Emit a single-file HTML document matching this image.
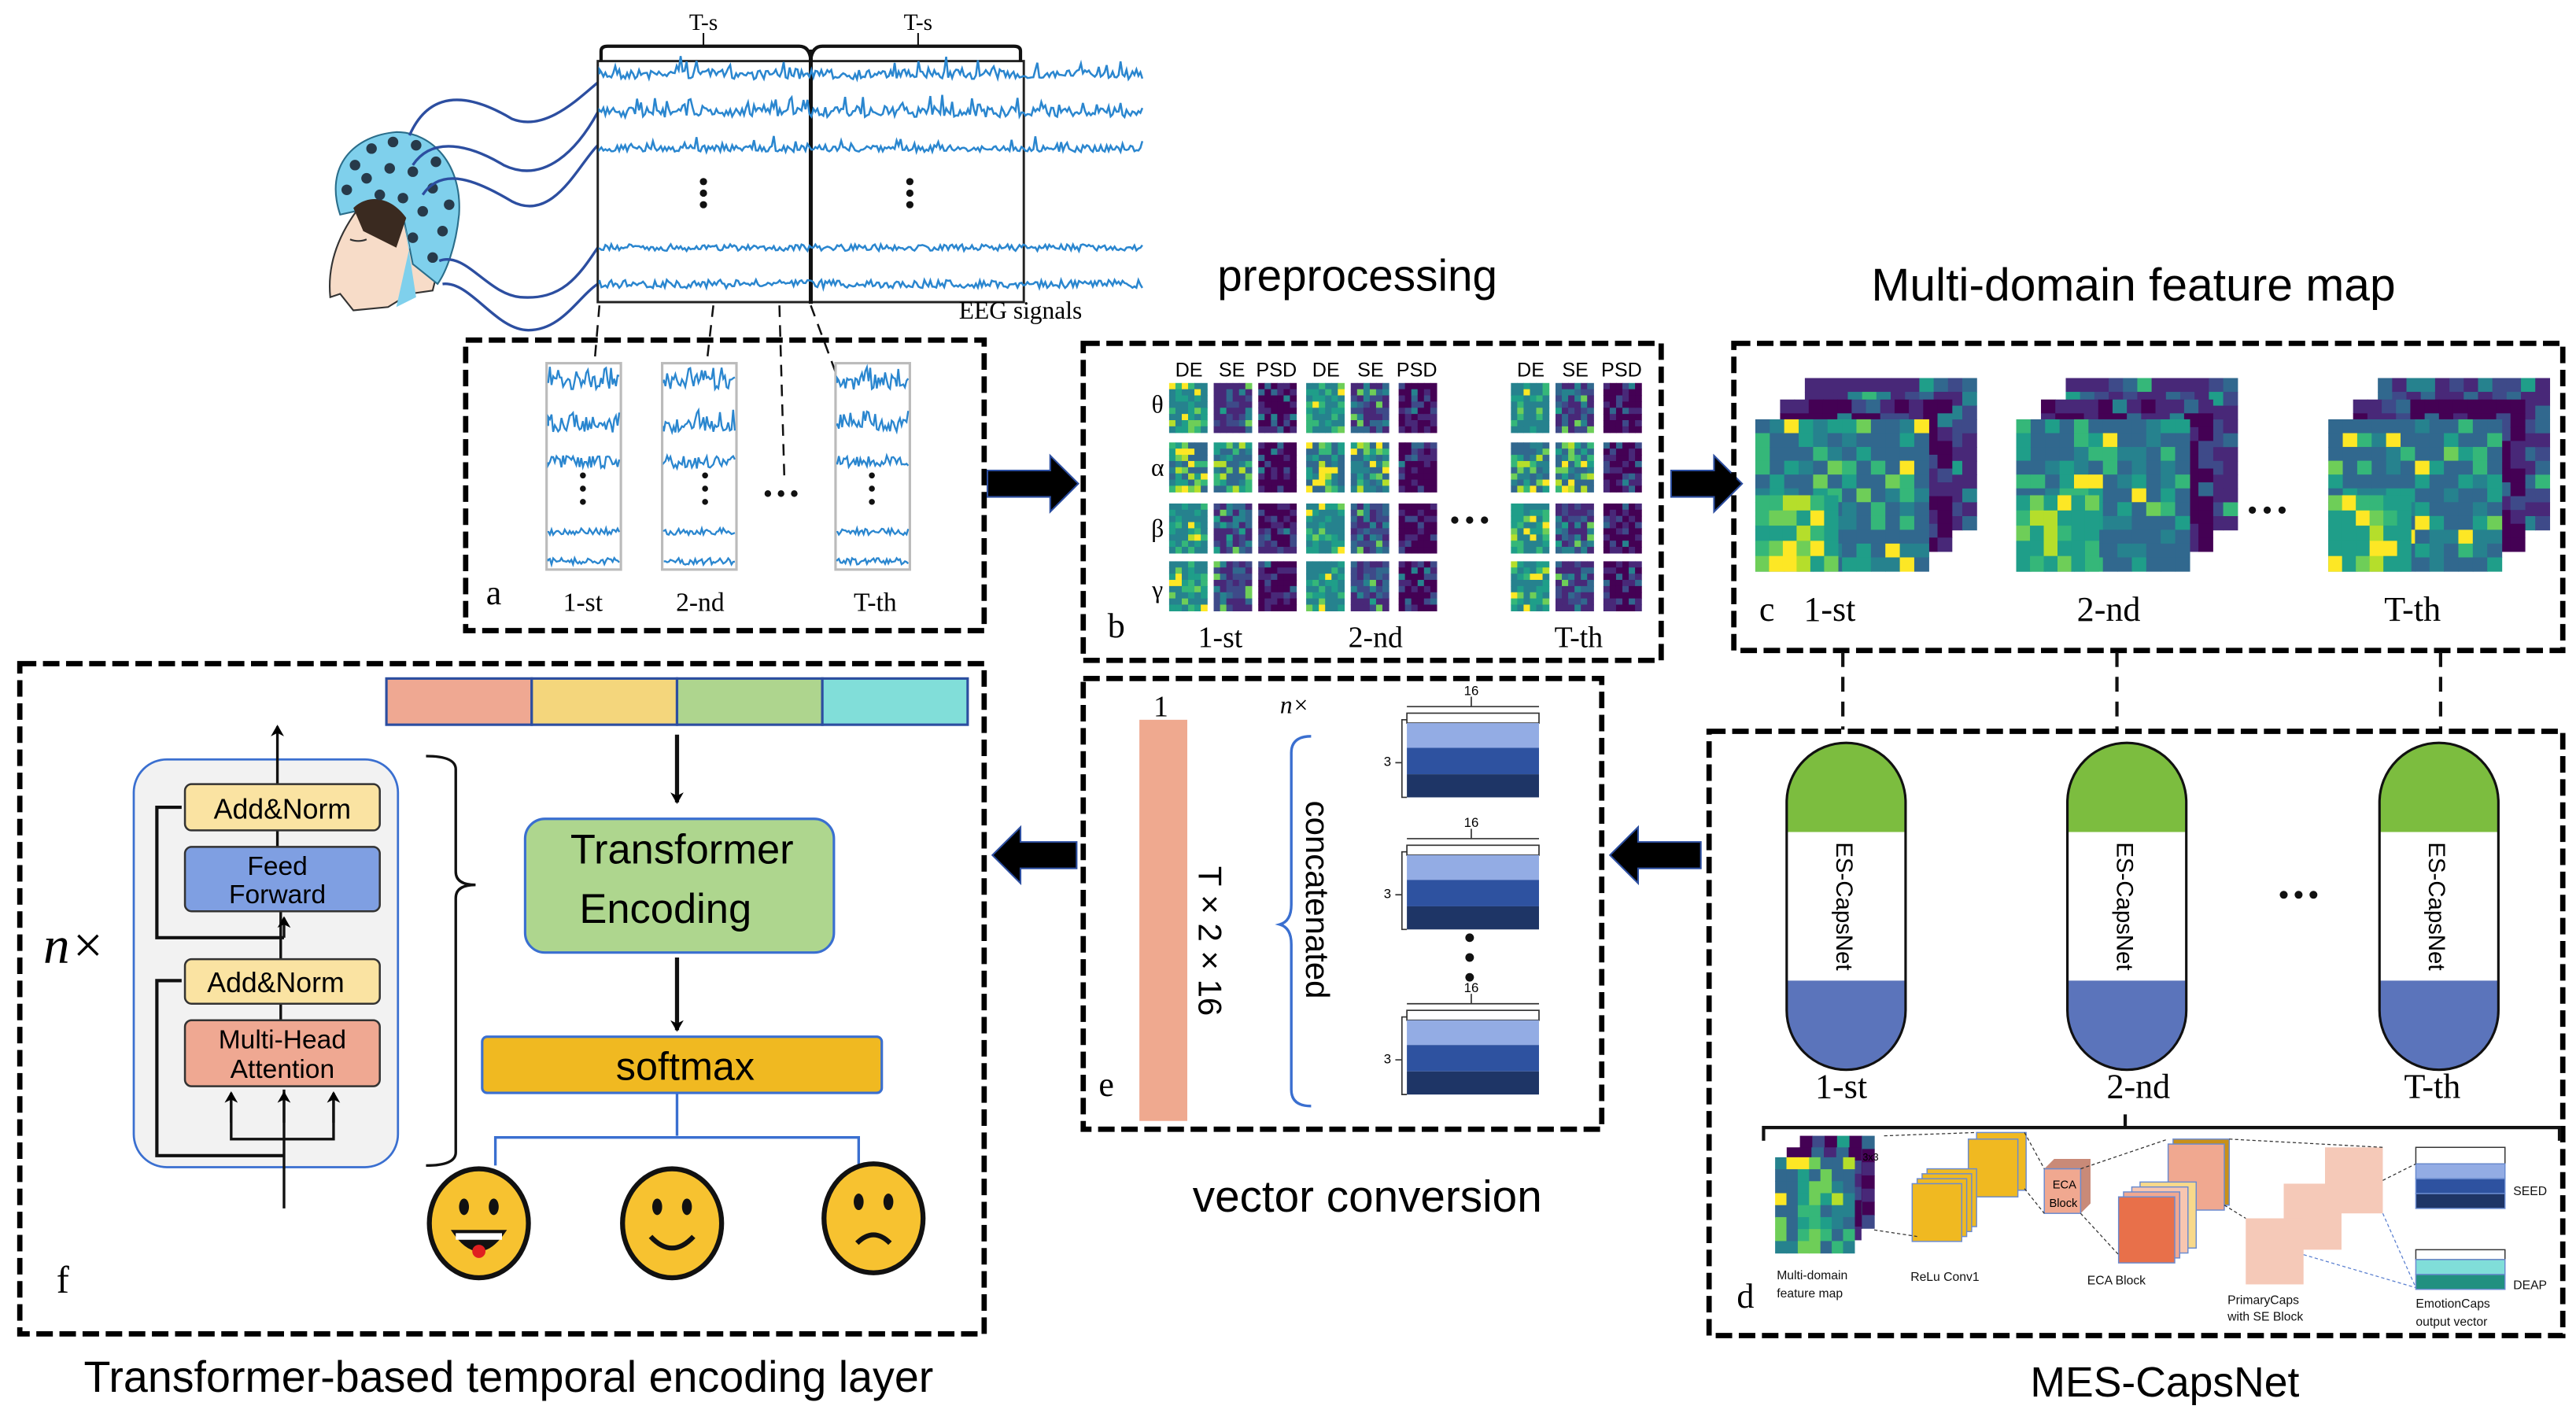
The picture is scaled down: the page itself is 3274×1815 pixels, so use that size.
<!DOCTYPE html>
<html><head><meta charset="utf-8">
<style>
html,body{margin:0;padding:0;background:#fff;}
body{width:3274px;height:1815px;overflow:hidden;}
svg{display:block;}
text{font-family:"Liberation Sans",sans-serif;}
.serif,.serif text{font-family:"Liberation Serif",serif;}
.db{fill:none;stroke:#000;stroke-width:3.2;stroke-dasharray:10 4;}
</style></head><body>
<svg id="s" width="3274" height="1815" viewBox="0 0 1560 865" preserveAspectRatio="none" xmlns="http://www.w3.org/2000/svg">
<defs>
<marker id="ah" markerWidth="8" markerHeight="8" refX="6" refY="4" orient="auto" markerUnits="userSpaceOnUse"><path d="M0,0 L7,4 L0,8 L2,4 z" fill="#000"/></marker>
</defs>
<rect width="1560" height="865" fill="#fff"/>

<!-- head -->
<g id="head">
<path d="M222,120 C205,140 198,160 200,180 L206,178 L214,188 L235,186 L248,178 L262,176 L266,160 L260,140 Z" fill="#f7dcc8" stroke="#333" stroke-width="1"/>
<path d="M206,130 C196,100 215,82 240,80 C262,80 280,100 278,130 C276,150 270,165 265,172 L250,160 L245,135 L215,128 Z" fill="#7fd0ec" stroke="#2a6d8a" stroke-width="1"/>
<path d="M214,126 C222,118 236,118 246,132 L240,150 L220,140 Z" fill="#3a2a20"/>
<path d="M245,135 L252,180 L240,186 L248,150 Z" fill="#7fd0ec"/>
<g fill="#273a4a" id="dots"></g>
<path d="M212,145 q5,2 10,0" stroke="#333" fill="none" stroke-width="1"/>
</g>
<!-- cables -->
<g fill="none" stroke="#2c4ea0" stroke-width="1.6">
<path d="M248,82 C262,50 290,60 310,72 C330,80 350,60 362,50"/>
<path d="M250,100 C262,82 285,88 305,100 C330,112 350,90 362,68"/>
<path d="M256,118 C268,100 290,110 310,122 C335,135 350,100 362,88"/>
<path d="M266,158 C282,152 295,178 315,180 C340,182 350,168 362,150"/>
<path d="M268,172 C285,170 300,200 320,200 C340,200 350,180 362,172"/>
</g>
<!-- EEG box -->
<rect x="362" y="37" width="258" height="146" fill="none" stroke="#222" stroke-width="1.4"/>
<line x1="491" y1="30" x2="491" y2="184" stroke="#111" stroke-width="2.4"/>
<path d="M364,37 v-6 q0,-3 4,-3 h116 q6,0 7,8 q1,-8 7,-8 h116 q4,0 4,3 v6" fill="none" stroke="#111" stroke-width="2"/>
<line x1="426" y1="28" x2="426" y2="20" stroke="#111"/><line x1="556" y1="28" x2="556" y2="20" stroke="#111"/>
<text x="426" y="18" class="serif" font-size="14" text-anchor="middle">T-s</text>
<text x="556" y="18" class="serif" font-size="14" text-anchor="middle">T-s</text>
<g id="eeg" fill="none" stroke="#2a86cf" stroke-width="1.2"></g>
<g fill="#111"><circle cx="426" cy="110" r="2.2"/><circle cx="426" cy="117" r="2.2"/><circle cx="426" cy="124" r="2.2"/><circle cx="551" cy="110" r="2.2"/><circle cx="551" cy="117" r="2.2"/><circle cx="551" cy="124" r="2.2"/></g>
<text x="618" y="193" class="serif" font-size="15" text-anchor="middle">EEG signals</text>
<g stroke="#111" stroke-width="1.2" stroke-dasharray="7 5"><line x1="363" y1="185" x2="354" y2="290"/><line x1="432" y1="185" x2="420" y2="290"/><line x1="472" y1="185" x2="475" y2="290"/><line x1="491" y1="185" x2="530" y2="290"/></g>

<!-- box a -->
<rect x="282" y="206" width="314" height="176" class="db"/>
<g id="strips"></g>
<g class="serif" font-size="16" text-anchor="middle">
<text x="299" y="366" font-size="21">a</text>
<text x="353" y="370">1-st</text><text x="424" y="370">2-nd</text><text x="530" y="370">T-th</text>
</g>
<g fill="#111"><circle cx="465" cy="299" r="2"/><circle cx="473" cy="299" r="2"/><circle cx="481" cy="299" r="2"/></g>

<!-- arrows -->
<path d="M598,285 h38 v-9 l17,17 l-17,17 v-9 h-38 z" fill="#000" stroke="#2c4ea0" stroke-width="1"/>
<path d="M1012,285 h26 v-9 l17,17 l-17,17 v-9 h-26 z" fill="#000" stroke="#2c4ea0" stroke-width="1"/>
<path d="M1030,510 h-38 v-9 l-17,17 l17,17 v-9 h38 z" fill="#000" stroke="#2c4ea0" stroke-width="1"/>
<path d="M652,510 h-34 v-9 l-17,17 l17,17 v-9 h34 z" fill="#000" stroke="#2c4ea0" stroke-width="1"/>

<text x="822" y="176" font-size="27" text-anchor="middle">preprocessing</text>
<text x="1292" y="182" font-size="28" text-anchor="middle">Multi-domain feature map</text>

<!-- box b -->
<rect x="656" y="208" width="350" height="192" class="db"/>
<g font-size="12" text-anchor="middle">
<text x="720" y="228">DE</text><text x="746" y="228">SE</text><text x="773" y="228">PSD</text>
<text x="803" y="228">DE</text><text x="830" y="228">SE</text><text x="858" y="228">PSD</text>
<text x="927" y="228">DE</text><text x="954" y="228">SE</text><text x="982" y="228">PSD</text>
</g>
<g class="serif" font-size="15" text-anchor="middle"><text x="701" y="250">θ</text><text x="701" y="288">α</text><text x="701" y="325">β</text><text x="701" y="362">γ</text></g>
<g id="bmaps"></g>
<g fill="#111"><circle cx="881" cy="315" r="2.2"/><circle cx="890" cy="315" r="2.2"/><circle cx="899" cy="315" r="2.2"/></g>
<g class="serif" font-size="18" text-anchor="middle"><text x="676" y="386" font-size="21">b</text><text x="739" y="392">1-st</text><text x="833" y="392">2-nd</text><text x="956" y="392">T-th</text></g>

<!-- box c -->
<rect x="1050" y="208" width="502" height="186" class="db"/>
<g id="cmaps"></g>
<g fill="#111"><circle cx="1364" cy="309" r="2.2"/><circle cx="1373" cy="309" r="2.2"/><circle cx="1382" cy="309" r="2.2"/></g>
<g class="serif" font-size="21" text-anchor="middle"><text x="1070" y="376">c</text><text x="1108" y="376">1-st</text><text x="1277" y="376">2-nd</text><text x="1461" y="376">T-th</text></g>
<g stroke="#111" stroke-width="2" stroke-dasharray="9 6"><line x1="1116" y1="395" x2="1116" y2="442"/><line x1="1282" y1="395" x2="1282" y2="442"/><line x1="1478" y1="395" x2="1478" y2="442"/></g>

<!-- box d -->
<rect x="1035" y="443" width="517" height="366" class="db"/>
<g id="caps"></g>
<g fill="#111"><circle cx="1383" cy="542" r="2.4"/><circle cx="1392" cy="542" r="2.4"/><circle cx="1401" cy="542" r="2.4"/></g>
<g class="serif" font-size="21" text-anchor="middle"><text x="1115" y="665">1-st</text><text x="1295" y="665">2-nd</text><text x="1473" y="665">T-th</text><text x="1057" y="792">d</text></g>
<path d="M1068,691 v-8 h482 v8 M1287,683 v-8" fill="none" stroke="#111" stroke-width="2"/>
<g id="mini"></g>
<g font-size="7.5" fill="#111">
<text x="1076" y="775">Multi-domain</text><text x="1076" y="786">feature map</text>
<text x="1157" y="776">ReLu Conv1</text>
<text x="1264" y="778">ECA Block</text>
<text x="1349" y="790">PrimaryCaps</text><text x="1349" y="800">with SE Block</text>
<text x="1463" y="792">EmotionCaps</text><text x="1463" y="803">output vector</text>
<text x="1522" y="724">SEED</text><text x="1522" y="781">DEAP</text>
</g>
<text x="1311" y="846" font-size="25.5" text-anchor="middle">MES-CapsNet</text>

<!-- box e -->
<rect x="656" y="411" width="314" height="273" class="db"/>
<text x="703" y="434" class="serif" font-size="18" text-anchor="middle">1</text>
<rect x="690" y="436" width="29" height="243" fill="#efa98f"/>
<text transform="translate(726,570) rotate(90)" font-size="20" text-anchor="middle">T × 2 × 16</text>
<text x="784" y="432" class="serif" font-style="italic" font-size="15" text-anchor="middle">n×</text>
<path d="M794,446 q-12,0 -12,10 v92 q0,10 -7,12 q7,2 7,12 v88 q0,10 12,10" fill="none" stroke="#3a6fd0" stroke-width="1.6"/>
<text transform="translate(791,545) rotate(90)" font-size="20" text-anchor="middle">concatenated</text>
<g id="vecs"></g>
<g fill="#111"><circle cx="890" cy="568" r="2.6"/><circle cx="890" cy="580" r="2.6"/><circle cx="890" cy="592" r="2.6"/></g>
<text x="670" y="664" class="serif" font-size="21" text-anchor="middle">e</text>
<text x="828" y="734" font-size="27" text-anchor="middle">vector conversion</text>

<!-- box f -->
<rect x="12" y="402" width="584" height="406" class="db"/>
<g stroke="#2c4ea0" stroke-width="1.5">
<rect x="234" y="411" width="88" height="28" fill="#efa892"/>
<rect x="322" y="411" width="88" height="28" fill="#f4d67c"/>
<rect x="410" y="411" width="88" height="28" fill="#aed58e"/>
<rect x="498" y="411" width="88" height="28" fill="#81ded9"/>
</g>
<line x1="410" y1="445" x2="410" y2="486" stroke="#111" stroke-width="2.5" marker-end="url(#ah)"/>
<rect x="318" y="496" width="187" height="81" rx="12" fill="#aed68e" stroke="#3a6fd0" stroke-width="1.5"/>
<text x="413" y="523" font-size="25" text-anchor="middle">Transformer</text>
<text x="403" y="559" font-size="25" text-anchor="middle">Encoding</text>
<line x1="410" y1="580" x2="410" y2="624" stroke="#111" stroke-width="2.5" marker-end="url(#ah)"/>
<rect x="292" y="628" width="242" height="34" rx="3" fill="#f0b921" stroke="#3a6fd0" stroke-width="1.5"/>
<text x="415" y="654" font-size="24" text-anchor="middle">softmax</text>
<path d="M410,662 v26 M300,706 v-17 h220 v17" fill="none" stroke="#3a6fd0" stroke-width="1.6"/>
<g id="emo"></g>

<rect x="81" y="460" width="160" height="247" rx="20" fill="#f2f2f2" stroke="#3a6fd0" stroke-width="1.3"/>
<g stroke="#111" stroke-width="1.6" fill="none">
<line x1="172" y1="732" x2="172" y2="660"/>
<line x1="168" y1="475" x2="168" y2="440" marker-end="url(#ah)"/>
<line x1="168" y1="503" x2="168" y2="513"/>
<line x1="170" y1="552" x2="170" y2="581"/>
<line x1="170" y1="608" x2="170" y2="618"/>
<path d="M172,690 h-32 v-24 M172,690 h30 v-24"/>
<path d="M172,700 h-77 v-106 h15" stroke-width="2"/>
<path d="M172,568 h-77 v-79 h15" stroke-width="2"/>
<line x1="140" y1="680" x2="140" y2="662" marker-end="url(#ah)"/>
<line x1="172" y1="680" x2="172" y2="662" marker-end="url(#ah)"/>
<line x1="202" y1="680" x2="202" y2="662" marker-end="url(#ah)"/>
<line x1="172" y1="568" x2="172" y2="556" marker-end="url(#ah)"/>
</g>
<rect x="112" y="475" width="118" height="28" rx="4" fill="#fae3a2" stroke="#333" stroke-width="1.2"/>
<text x="171" y="496" font-size="17" text-anchor="middle">Add&amp;Norm</text>
<rect x="112" y="513" width="118" height="39" rx="4" fill="#7f9fe2" stroke="#333" stroke-width="1.2"/>
<text x="168" y="530" font-size="16" text-anchor="middle">Feed</text><text x="168" y="547" font-size="16" text-anchor="middle">Forward</text>
<rect x="112" y="581" width="118" height="27" rx="4" fill="#fae3a2" stroke="#333" stroke-width="1.2"/>
<text x="167" y="601" font-size="17" text-anchor="middle">Add&amp;Norm</text>
<rect x="112" y="618" width="118" height="40" rx="4" fill="#efa892" stroke="#333" stroke-width="1.2"/>
<text x="171" y="635" font-size="16" text-anchor="middle">Multi-Head</text><text x="171" y="653" font-size="16" text-anchor="middle">Attention</text>
<path d="M258,458 q18,0 18,8 v62 q0,8 12,8 q-12,0 -12,8 v154 q0,8 -18,8" fill="none" stroke="#111" stroke-width="1.6"/>
<text x="45" y="583" class="serif" font-style="italic" font-size="32" text-anchor="middle">n×</text>
<text x="38" y="783" class="serif" font-size="23" text-anchor="middle">f</text>
<text x="308" y="843" font-size="26.5" text-anchor="middle">Transformer-based temporal encoding layer</text>
</svg>
<script>
(function(){
var NS="http://www.w3.org/2000/svg";
function el(t,a,p){var e=document.createElementNS(NS,t);for(var k in a)e.setAttribute(k,a[k]);(p||document.getElementById('s')).appendChild(e);return e;}
var seed=7;function rnd(){seed=(seed*16807)%2147483647;return seed/2147483647;}
var vir=["#440154","#482878","#3e4a89","#31688e","#26828e","#1f9e89","#35b779","#6ece58","#b5de2b","#fde725"];
function heat(g,x,y,w,h,nx,ny,lo,hi){var cw=w/nx,ch=h/ny;for(var i=0;i<nx;i++)for(var j=0;j<ny;j++){var r=rnd();var idx=Math.floor(lo+(hi-lo)*r*r*(r>0.93?1.4:1));if(idx>9)idx=9;el('rect',{x:x+i*cw,y:y+j*ch,width:cw+0.3,height:ch+0.3,fill:vir[idx]},g);}}
var d=document.getElementById('dots');
[[215,100],[225,90],[238,86],[252,88],[264,98],[210,115],[222,108],[236,102],[250,104],[262,114],[272,124],[230,118],[244,120],[256,128],[268,140],[262,156],[250,144]].forEach(function(p){el('circle',{cx:p[0],cy:p[1],r:3.2},d);});
var g=document.getElementById('eeg');
function wave(x0,x1,y,amp,sp){var s="M"+x0+","+y;for(var x=x0;x<=x1;x+=1.2){var v=(rnd()-0.5)*amp;if(rnd()<sp)v-=amp*1.5*rnd();s+=" L"+x.toFixed(1)+","+(y+v).toFixed(1);}el('path',{d:s},g);}
wave(363,692,45,6,0.15);wave(363,692,68,6,0.2);wave(363,692,90,4,0.12);wave(363,692,150,4,0);wave(363,692,172,5,0);
var st=document.getElementById('strips');
[331,401,506].forEach(function(x){el('rect',{x:x,y:220,width:45,height:125,fill:"#fff",stroke:"#bbb","stroke-width":1.5},st);
 [232,258,280,322,340].forEach(function(y,k){var s="M"+(x+1)+","+y;for(var xx=x+1;xx<=x+44;xx+=1){var v=(rnd()-0.5)*(k<3?8:4);if(k<2&&rnd()<0.25)v-=6;s+=" L"+xx+","+(y+v).toFixed(1);}el('path',{d:s,fill:"none",stroke:"#2a86cf","stroke-width":1.1},st);});
 [288,296,304].forEach(function(y){el('circle',{cx:x+(x==401?26:22),cy:y,r:1.8,fill:"#111"},st);});
});
var bm=document.getElementById('bmaps');
var cols=[[708,735,762],[791,818,847],[915,942,971]];var rows=[232,268,305,340];
cols.forEach(function(c){rows.forEach(function(r,ri){c.forEach(function(x,ci){var ranges=[[4,8],[1,6],[0,3]];var rr=ranges[ci];if(ri==1&&ci<2)rr=[3,10];heat(bm,x,r,23,30,6,8,rr[0],rr[1]);});});});
var cm=document.getElementById('cmaps');
[1063,1221,1410].forEach(function(x){heat(cm,x+30,229,104,92,12,11,1,5);heat(cm,x+15,242,104,92,12,11,0,3);heat(cm,x,254,105,92,12,11,3,8);
 heat(cm,x,300,50,46,6,5,5,10);});
var cp=document.getElementById('caps');
[1082,1252,1441].forEach(function(x){var w=72,cx=x+36;
 el('path',{d:"M"+x+",504 v-18 a36,36 0 0 1 "+w+",0 v18 z",fill:"#7cbd3f"},cp);
 el('rect',{x:x,y:504,width:w,height:90,fill:"#fff"},cp);
 el('path',{d:"M"+x+",594 v18 a36,36 0 0 0 "+w+",0 v-18 z",fill:"#5b74bb"},cp);
 el('path',{d:"M"+x+",486 a36,36 0 0 1 "+w+",0 v126 a36,36 0 0 1 -"+w+",0 z",fill:"none",stroke:"#111","stroke-width":1.5},cp);
 var t=el('text',{transform:"translate("+(cx-6)+",549) rotate(90)","font-size":14,"text-anchor":"middle"},cp);t.textContent="ES-CapsNet";});
var mi=document.getElementById('mini');
heat(mi,1090,688,45,56,6,7,0,4);heat(mi,1082,695,45,56,6,7,0,3);heat(mi,1075,701,48,58,7,8,3,9);
function box(x,y,w,h,f,o){el('rect',{x:x,y:y,width:w,height:h,fill:f,stroke:o||"#6a8bd0","stroke-width":0.7},mi);}
box(1197,686,30,35,"#f0b921");box(1192,690,30,35,"#f0b921");
box(1167,708,30,35,"#f0b921");box(1164,711,30,35,"#f0b921");box(1161,714,30,35,"#f0b921");box(1158,717,30,35,"#f0b921");
el('path',{d:"M1238,708 l6,-6 h22 l-6,6 z M1260,708 l6,-6 v27 l-6,6 z",fill:"#c98a78"},mi);box(1238,708,22,27,"#f0a890");
box(1316,690,34,40,"#c99018");box(1313,693,34,40,"#f0a890");
box(1296,716,34,40,"#f8d98a");box(1291,719,34,40,"#f8c6b0");box(1286,722,34,40,"#f0a890");box(1283,725,34,40,"#e8704a");
box(1408,695,35,40,"#f5c9b8","none");box(1383,717,35,40,"#f5c9b8","none");box(1360,738,35,40,"#f5c9b8","none");
box(1463,695,54,10,"#fff","#333");box(1463,705,54,9,"#93ace4");box(1463,714,54,9,"#2e52a0");box(1463,723,54,9,"#1e3566");
box(1463,757,54,6,"#fff","#333");box(1463,763,54,9,"#80ded9");box(1463,772,54,9,"#229080");
var t=el('text',{x:1128,y:703,"font-size":6},mi);t.textContent="3x3";
t=el('text',{x:1243,y:720,"font-size":7},mi);t.textContent="ECA";t=el('text',{x:1241,y:731,"font-size":7},mi);t.textContent="Block";
el('path',{d:"M1141,688 L1197,686 M1135,745 L1161,749 M1226,686 L1238,708 M1226,720 L1238,735 M1260,708 L1313,690 M1260,735 L1283,760 M1350,690 L1443,695 M1347,730 L1360,738 M1443,715 L1463,705",stroke:"#333","stroke-width":0.6,"stroke-dasharray":"2 1.5",fill:"none"},mi);
el('path',{d:"M1443,735 L1463,780 M1395,760 L1463,780",stroke:"#5a7fd0","stroke-width":0.6,"stroke-dasharray":"2 1.5",fill:"none"},mi);
var vc=document.getElementById('vecs');
[432,512,612].forEach(function(y){el('rect',{x:852,y:y,width:80,height:6,fill:"#fff",stroke:"#333","stroke-width":0.8},vc);
 el('rect',{x:852,y:y+6,width:80,height:15,fill:"#93ace4"},vc);el('rect',{x:852,y:y+21,width:80,height:16,fill:"#2e52a0"},vc);el('rect',{x:852,y:y+37,width:80,height:14,fill:"#1e3566"},vc);
 el('path',{d:"M852,"+(y-4)+" h80 M891,"+(y-4)+" v-6 M852,"+(y+4)+" h-3 v47 h3 M849,"+(y+30)+" h-4",fill:"none",stroke:"#333","stroke-width":0.8},vc);
 var t=el('text',{x:891,y:y-11,"font-size":8,"text-anchor":"middle"},vc);t.textContent="16";
 t=el('text',{x:838,y:y+32,"font-size":8},vc);t.textContent="3";});
var em=document.getElementById('emo');
[[290,741,0],[407,741,1],[529,738,2]].forEach(function(e){var x=e[0],y=e[1];
 el('ellipse',{cx:x,cy:y,rx:30,ry:33,fill:"#f7c230",stroke:"#111","stroke-width":3},em);
 el('ellipse',{cx:x-9,cy:y-10,rx:3,ry:5,fill:"#111"},em);el('ellipse',{cx:x+9,cy:y-10,rx:3,ry:5,fill:"#111"},em);
 if(e[2]==0){el('path',{d:"M"+(x-17)+","+(y+4)+" q17,26 34,0 z",fill:"#111"},em);el('path',{d:"M"+(x-14)+","+(y+6)+" h28 v4 h-28z",fill:"#fff"},em);el('circle',{cx:x,cy:y+17,r:4,fill:"#e02020"},em);}
 else if(e[2]==1){el('path',{d:"M"+(x-13)+","+(y+8)+" q13,14 26,0",fill:"none",stroke:"#111","stroke-width":3},em);}
 else{el('path',{d:"M"+(x-10)+","+(y+15)+" q10,-10 20,0",fill:"none",stroke:"#111","stroke-width":3},em);}});
})();
</script>
</body></html>
